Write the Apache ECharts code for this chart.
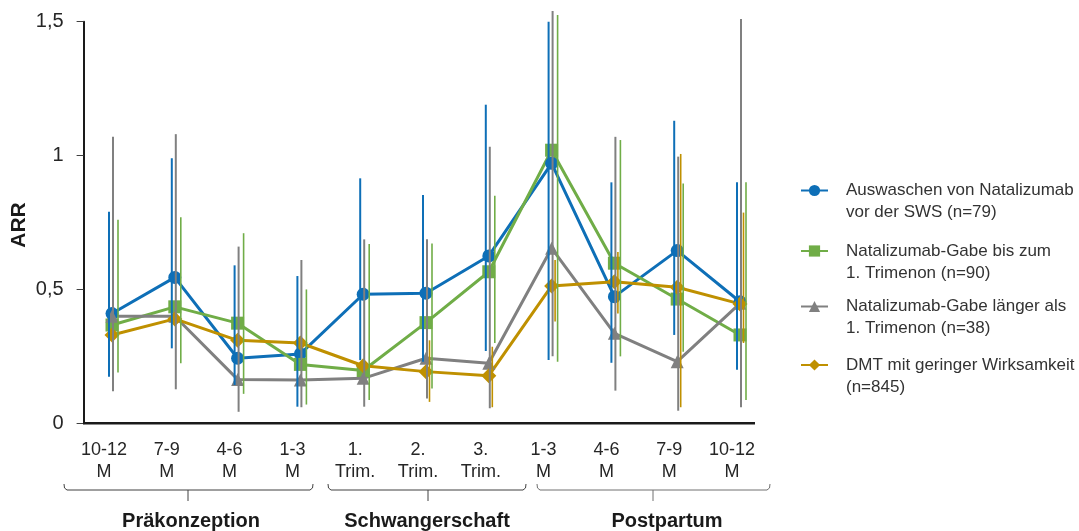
<!DOCTYPE html>
<html><head><meta charset="utf-8">
<script src="https://cdn.jsdelivr.net/npm/echarts@6/dist/echarts.min.js"></script>
<style>html,body{margin:0;padding:0;background:#fff;}#c{width:1079px;height:531px;}</style>
</head><body><div id="c"></div>
<script>
// ---- data ----
const categories = ['10-12\nM','7-9\nM','4-6\nM','1-3\nM','1.\nTrim.','2.\nTrim.','3.\nTrim.','1-3\nM','4-6\nM','7-9\nM','10-12\nM'];
const groupLabels = ['Präkonzeption','Schwangerschaft','Postpartum'];
const yAxisTitle = 'ARR';
const seriesNames = ['Auswaschen von Natalizumab\nvor der SWS (n=79)','Natalizumab-Gabe bis zum\n1. Trimenon (n=90)','Natalizumab-Gabe länger als\n1. Trimenon (n=38)','DMT mit geringer Wirksamkeit\n(n=845)'];
const washoutARR  = [0.41, 0.545, 0.243, 0.259, 0.482, 0.486, 0.625, 0.971, 0.473, 0.645, 0.454];
const washoutLow  = [0.174, 0.28, 0.143, 0.062, 0.236, 0.23, 0.27, 0.236, 0.226, 0.33, 0.20];
const washoutHigh = [0.79, 0.99, 0.59, 0.55, 0.915, 0.853, 1.19, 1.50, 0.90, 1.13, 0.90];
const firstTrimARR  = [0.367, 0.435, 0.374, 0.22, 0.197, 0.376, 0.566, 1.02, 0.598, 0.464, 0.33];
const firstTrimLow  = [0.19, 0.224, 0.11, 0.07, 0.087, 0.13, 0.30, 0.23, 0.25, 0.267, 0.087];
const firstTrimHigh = [0.76, 0.77, 0.71, 0.50, 0.67, 0.672, 0.85, 1.525, 1.058, 0.896, 0.90];
const longerARR  = [0.40, 0.40, 0.164, 0.162, 0.168, 0.243, 0.224, 0.654, 0.336, 0.23, 0.448];
const longerLow  = [0.12, 0.127, 0.043, 0.06, 0.062, 0.093, 0.056, 0.25, 0.122, 0.047, 0.06];
const longerHigh = [1.07, 1.08, 0.66, 0.61, 0.687, 0.687, 1.033, 1.54, 1.07, 0.996, 1.51];
const dmtARR  = [0.33, 0.39, 0.31, 0.30, 0.215, 0.193, 0.178, 0.513, 0.529, 0.508, 0.446];
const dmtLow  = [null, null, null, null, null, 0.08, 0.06, 0.38, 0.41, 0.06, 0.30];
const dmtHigh = [null, null, null, null, null, 0.31, 0.286, 0.61, 0.64, 1.006, 0.787];

// ---- styles ----
const colors = ['#0E6FB7', '#70AD47', '#808080', '#BF9000'];
const font = "'Liberation Sans', Arial, sans-serif";

function lineSeries(name, vals, color, symbol, size) {
  return { type: 'line', name, data: vals, symbol, symbolSize: size, z: 2,
    lineStyle: { width: 3, color }, itemStyle: { color }, emphasis: { disabled: true } };
}
function errSeries(low, high, color, width, dx) {
  const data = [];
  low.forEach((l, i) => { if (l != null && high[i] != null) data.push([i, l, high[i]]); });
  return { type: 'custom', data, z: 4, silent: true, encode: { x: 0, y: [1, 2] },
    renderItem(params, api) {
      const p1 = api.coord([api.value(0), api.value(1)]);
      const p2 = api.coord([api.value(0), api.value(2)]);
      return { type: 'line', shape: { x1: p1[0] + dx, y1: p1[1], x2: p2[0] + dx, y2: p2[1] },
        style: { stroke: color, lineWidth: width } };
    } };
}

const legendTops = [157.5, 218, 273.5, 332];

function bracket(x1, x2, cx, color) {
  return [
    { type: 'polyline', shape: { points: [[x1, 484], [x1 + 0.5, 488], [x1 + 3, 490], [x2 - 3, 490], [x2 - 0.5, 488], [x2, 484]] },
      style: { stroke: color, lineWidth: 1, fill: null } },
    { type: 'line', shape: { x1: cx, y1: 490, x2: cx, y2: 501 }, style: { stroke: color, lineWidth: 1 } }
  ];
}

const chart = echarts.init(document.getElementById('c'));
chart.setOption({
  animation: false,
  backgroundColor: '#fff',
  textStyle: { fontFamily: font },
  grid: { left: 80.6, right: 307.6, top: 21.7, bottom: 107.7, containLabel: false, outerBoundsMode: 'none' },
  xAxis: { type: 'category', data: categories, boundaryGap: true,
    axisLine: { show: false }, axisTick: { show: false },
    axisLabel: { fontSize: 18, color: '#262626', lineHeight: 22, margin: 16, interval: 0, padding: [0, 16, 0, 0] } },
  yAxis: { type: 'value', min: 0, max: 1.5, interval: 0.5, offset: -3,
    axisLine: { show: true, lineStyle: { color: '#1a1a1a', width: 2 } },
    axisTick: { show: true, length: 7, lineStyle: { color: '#404040', width: 1 } },
    axisLabel: { fontSize: 20, color: '#262626', margin: 20, formatter: v => String(v).replace('.', ',') },
    splitLine: { show: false } },
  legend: seriesNames.map((n, i) => ({
    data: [n], orient: 'vertical', left: 800, top: legendTops[i], padding: 0,
    itemWidth: 27, itemHeight: 14, selectedMode: false,
    formatter: name => '\n' + name,
    textStyle: { fontSize: 17, color: '#333', lineHeight: 22, padding: [0, 0, 0, 13] }
  })),
  series: [
    lineSeries(seriesNames[0], washoutARR, colors[0], 'circle', 13),
    lineSeries(seriesNames[1], firstTrimARR, colors[1], 'rect', 13),
    lineSeries(seriesNames[2], longerARR, colors[2], 'triangle', 13),
    lineSeries(seriesNames[3], dmtARR, colors[3], 'diamond', 15),
    errSeries(washoutLow, washoutHigh, colors[0], 2, -3),
    errSeries(firstTrimLow, firstTrimHigh, colors[1], 1.6, 6),
    errSeries(longerLow, longerHigh, colors[2], 2, 1),
    errSeries(dmtLow, dmtHigh, colors[3], 1.6, 3.5)
  ],
  graphic: [
    { type: 'line', shape: { x1: 83, y1: 423.3, x2: 755, y2: 423.3 }, style: { stroke: '#1a1a1a', lineWidth: 2.5 }, z: 10 },
    { type: 'text', x: 19, y: 225, rotation: Math.PI / 2, style: { text: yAxisTitle, font: "bold 21px " + font, fill: '#1a1a1a', textAlign: 'center', textVerticalAlign: 'middle' } },
    ...bracket(64, 313, 188, '#404040'),
    ...bracket(328, 526, 428, '#404040'),
    ...bracket(537, 770, 653, '#707070'),
    { type: 'text', x: 191, y: 521, style: { text: groupLabels[0], font: "bold 20px " + font, fill: '#1a1a1a', textAlign: 'center', textVerticalAlign: 'middle' } },
    { type: 'text', x: 427, y: 521, style: { text: groupLabels[1], font: "bold 20px " + font, fill: '#1a1a1a', textAlign: 'center', textVerticalAlign: 'middle' } },
    { type: 'text', x: 667, y: 521, style: { text: groupLabels[2], font: "bold 20px " + font, fill: '#1a1a1a', textAlign: 'center', textVerticalAlign: 'middle' } }
  ]
});
</script></body></html>
